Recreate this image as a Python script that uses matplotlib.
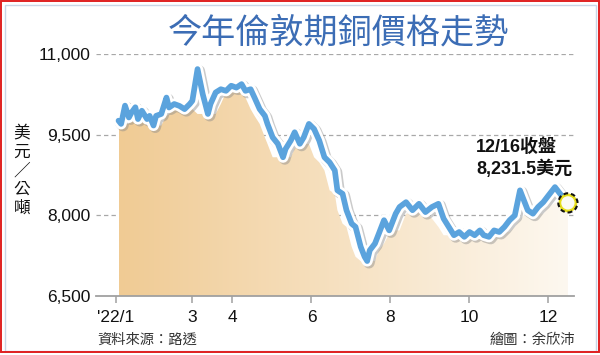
import numpy as np
import pandas as pd
import matplotlib
matplotlib.use('Agg')
import matplotlib.pyplot as plt
import matplotlib.dates as mdates
import matplotlib.patheffects as pe
from matplotlib.patches import Rectangle, Circle, Polygon
from matplotlib.transforms import ScaledTranslation

# ---------------- data ----------------
dates = ["2022-01-03", "2022-01-05", "2022-01-08", "2022-01-11", "2022-01-13", "2022-01-16",
         "2022-01-18", "2022-01-21", "2022-01-25", "2022-01-27", "2022-01-30", "2022-02-01",
         "2022-02-05", "2022-02-09", "2022-02-11", "2022-02-15", "2022-02-19", "2022-02-23",
         "2022-02-27", "2022-03-01", "2022-03-05", "2022-03-09", "2022-03-13", "2022-03-15",
         "2022-03-19", "2022-03-23", "2022-03-27", "2022-03-31", "2022-04-04", "2022-04-08",
         "2022-04-11", "2022-04-15", "2022-04-18", "2022-04-22", "2022-04-26", "2022-04-28",
         "2022-05-02", "2022-05-06", "2022-05-10", "2022-05-12", "2022-05-16", "2022-05-19",
         "2022-05-23", "2022-05-26", "2022-05-30", "2022-06-03", "2022-06-07", "2022-06-11",
         "2022-06-15", "2022-06-19", "2022-06-21", "2022-06-25", "2022-06-28", "2022-07-02",
         "2022-07-05", "2022-07-09", "2022-07-12", "2022-07-14", "2022-07-16", "2022-07-20",
         "2022-07-23", "2022-07-27", "2022-07-31", "2022-08-05", "2022-08-08", "2022-08-13",
         "2022-08-18", "2022-08-23", "2022-08-28", "2022-09-02", "2022-09-07", "2022-09-11",
         "2022-09-15", "2022-09-19", "2022-09-23", "2022-09-27", "2022-10-01", "2022-10-05",
         "2022-10-09", "2022-10-12", "2022-10-16", "2022-10-20", "2022-10-24", "2022-10-28",
         "2022-11-01", "2022-11-05", "2022-11-09", "2022-11-12", "2022-11-15", "2022-11-19",
         "2022-11-23", "2022-11-27", "2022-12-01", "2022-12-06", "2022-12-10", "2022-12-16"]
prices = [9760, 9700, 10040, 9820, 9910, 10010,
          9790, 9945, 9790, 9850, 9670, 9850,
          9885, 10190, 10005, 10070, 10035, 9975,
          10070, 10130, 10720, 10255, 9885, 10070,
          10285, 10345, 10315, 10410, 10375, 10440,
          10315, 10345, 10190, 9975, 9850, 9700,
          9450, 9330, 9080, 9235, 9390, 9545,
          9330, 9450, 9700, 9605, 9390, 9080,
          8985, 8835, 8465, 8400, 8095, 7845,
          7785, 7415, 7230, 7150, 7350, 7475,
          7660, 7910, 7720, 8030, 8155, 8245,
          8095, 8215, 8060, 8155, 8215, 7940,
          7785, 7630, 7690, 7600, 7690, 7630,
          7720, 7630, 7600, 7720, 7690, 7785,
          7910, 8000, 8465, 8280, 8095, 8030,
          8155, 8245, 8370, 8525, 8400, 8231.5]

tick_dates = ["2022-01-01", "2022-03-01", "2022-04-01", "2022-06-01",
              "2022-08-01", "2022-10-01", "2022-12-01"]
tick_labels = ["'22/1", "3", "4", "6", "8", "10", "12"]
y_ticks = [6500, 8000, 9500, 11000]
y_tick_labels = ["6,500", "8,000", "9,500", "11,000"]

title = "今年倫敦期銅價格走勢"
y_unit = "美元／公噸"
note_line1 = "12/16收盤"
note_line2 = "8,231.5美元"
source = "資料來源：路透"
credit = "繪圖：余欣沛"

# ---------------- figure ----------------
W, H = 600, 355
CJK = ['Noto Sans CJK TC', 'DejaVu Sans']
NUM = ['Liberation Sans', 'Noto Sans CJK TC', 'DejaVu Sans']
plt.rcParams['font.family'] = NUM

fig = plt.figure(figsize=(W / 100, H / 100), dpi=100)
fig.patch.set_facecolor('white')
ax = fig.add_axes([96 / W, 1 - 296 / H, (574 - 96) / W, (296 - 54) / H])
ax.set_facecolor('none')

x = mdates.date2num(pd.to_datetime(dates))
y = np.array(prices, dtype=float)
base = mdates.date2num(pd.Timestamp("2022-01-01"))
xlim = (base - 15.4, base + 353.7)
ylim = (6500, 11000)

# gradient area under the line
fill_top = pd.Series(y).rolling(5, center=True, min_periods=1).min().values
verts = [(x[0], ylim[0])] + list(zip(x, fill_top)) + [(x[-1], ylim[0])]
poly = Polygon(verts, closed=True, facecolor='none', edgecolor='none')
ax.add_patch(poly)
g = np.linspace(0, 1, 256)
c0 = np.array([240, 203, 148]) / 255
c1 = np.array([253, 248, 240]) / 255
img = c0[None, None, :] * (1 - g[None, :, None]) + c1[None, None, :] * g[None, :, None]
im = ax.imshow(img, extent=[x[0], x[-1], ylim[0], ylim[1]], aspect='auto',
               origin='lower', zorder=1, interpolation='bilinear')
im.set_clip_path(poly)

# grid
for v in [8000, 9500, 11000]:
    ax.axhline(v, color='#a8a8a8', lw=0.9, ls=(0, (3.5, 2.5)), zorder=0.5)

# line
ax.plot(x, y, color='#5ba3dd', lw=4.1, solid_joinstyle='round', solid_capstyle='round',
        zorder=5, clip_on=False,
        path_effects=[pe.SimpleLineShadow(offset=(1.3, -1.3), shadow_color='#8a8a8a', alpha=0.45,
                                          linewidth=8.2),
                      pe.Stroke(linewidth=8.0, foreground='white'),
                      pe.Normal()])

# end marker
trans = fig.dpi_scale_trans + ScaledTranslation(x[-1], y[-1], ax.transData)
ax.add_patch(Circle((0, 0), 0.08, transform=trans, facecolor='#fbfbf4', edgecolor='#e6df1c',
                    lw=1.9, zorder=7, clip_on=False))
ax.add_patch(Circle((0, 0), 0.096, transform=trans, facecolor='none', edgecolor='#111111',
                    lw=1.5, ls=(0, (2.2, 1.4)), zorder=8, clip_on=False))

ax.set_xlim(*xlim)
ax.set_ylim(*ylim)

# axes styling
for s in ['top', 'right', 'left']:
    ax.spines[s].set_visible(False)
ax.spines['bottom'].set_color('#a0a0a0')
ax.spines['bottom'].set_linewidth(1.3)
ax.set_xticks(mdates.date2num(pd.to_datetime(tick_dates)))
ax.set_xticklabels(tick_labels)
ax.set_yticks(y_ticks)
ax.set_yticklabels(y_tick_labels)
ax.tick_params(axis='x', direction='out', length=5, width=1.1, color='#a0a0a0',
               pad=5, labelsize=12.5, labelcolor='#111111')
ax.tick_params(axis='y', length=0, pad=4, labelsize=12.5, labelcolor='#111111')

# texts
fig.text(338 / W, 1 - 33 / H, title, ha='center', va='center', fontsize=24.6,
         color='#3c6db5', family=CJK)
for i, ch in enumerate(y_unit):
    fig.text(22 / W, 1 - (134 + 18.5 * i) / H, ch, ha='center', va='center', fontsize=12,
             color='#111111', family=CJK)
fig.text(476 / W, 1 - 147 / H, note_line1, ha='left', va='center', fontsize=13,
         fontweight='bold', color='#111111', family=NUM)
fig.text(476 / W, 1 - 169 / H, note_line2, ha='left', va='center', fontsize=13,
         fontweight='bold', color='#111111', family=NUM)
fig.text(97 / W, 1 - 340 / H, source, ha='left', va='center', fontsize=10.3,
         color='#333333', family=CJK)
fig.text(575 / W, 1 - 340 / H, credit, ha='right', va='center', fontsize=10.3,
         color='#333333', family=CJK)

# frame
fig.patches.append(Rectangle((4.5 / W, 4.5 / H), (W - 9) / W, (H - 9) / H, transform=fig.transFigure,
                             facecolor='none', edgecolor='#c9d6e6', lw=1.0))
fig.patches.append(Rectangle((1.2 / W, 3.5 / H), (W - 2.6) / W, (H - 4.5) / H, transform=fig.transFigure,
                             facecolor='none', edgecolor='#e02020', lw=1.4))

fig.savefig('out.png', dpi=100)
